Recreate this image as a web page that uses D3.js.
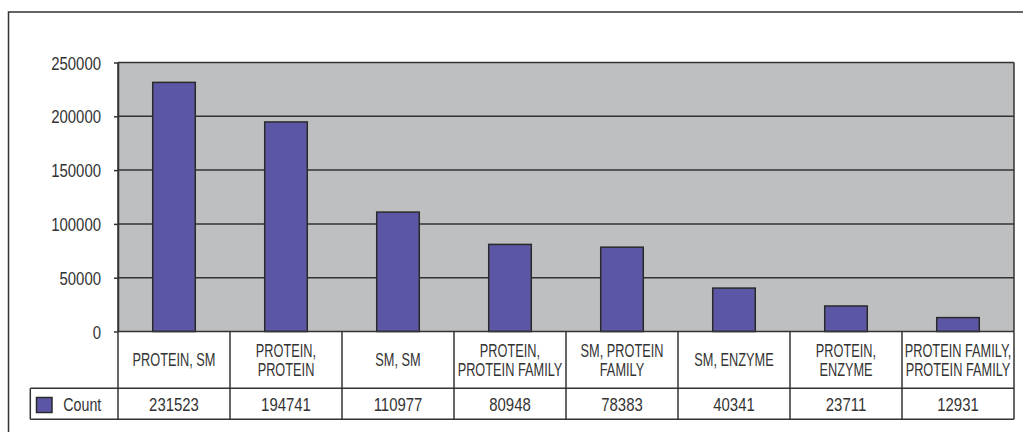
<!DOCTYPE html>
<html>
<head>
<meta charset="utf-8">
<script src="https://cdn.jsdelivr.net/npm/d3@7"></script>
<style>
  html, body { margin: 0; padding: 0; background: #ffffff; }
  svg { display: block; }
  text { font-family: "Liberation Sans", Arial, sans-serif; fill: #333333; }
</style>
</head>
<body>
<svg id="chart" width="1023" height="432"></svg>
<script>
// ---- data ----
const categories = [
  "PROTEIN, SM",
  "PROTEIN,\nPROTEIN",
  "SM, SM",
  "PROTEIN,\nPROTEIN FAMILY",
  "SM, PROTEIN\nFAMILY",
  "SM, ENZYME",
  "PROTEIN,\nENZYME",
  "PROTEIN FAMILY,\nPROTEIN FAMILY"
];
const counts = [231523, 194741, 110977, 80948, 78383, 40341, 23711, 12931];
const seriesName = "Count";
const yTicks = [0, 50000, 100000, 150000, 200000, 250000];

// ---- layout ----
const W = 1023, H = 432;
const plot = { left: 118, right: 1014, top: 62.5, bottom: 331.5 };
const table = { catBottom: 388.3, valBottom: 419.3, legendLeft: 30.3 };
const lineColor = "#333333";
const barFill = "#5b56a6";
const plotBg = "#bebfc1";
const FS = 18;            // font size
const SX_CAPS = 0.71;     // horizontal condensing for upper-case labels
const SX_DIGITS = 0.83;   // horizontal condensing for numbers
const SX_LOWER = 0.79;    // horizontal condensing for mixed-case text

const svg = d3.select("#chart");

function condText(parent, x, y, str, anchor, sx) {
  return parent.append("g")
    .attr("transform", `translate(${x},${y}) scale(${sx},1)`)
    .append("text")
    .attr("text-anchor", anchor)
    .attr("font-size", FS)
    .text(str);
}

// outer frame (extends past the right/bottom edges like the reference)
svg.append("rect")
  .attr("x", 8.5).attr("y", 12)
  .attr("width", W + 20).attr("height", H + 20)
  .attr("fill", "#ffffff").attr("stroke", lineColor).attr("stroke-width", 1.5);

const x = d3.scaleBand().domain(categories)
  .range([plot.left, plot.right])
  .paddingInner(0.62).paddingOuter(0.31);
const xCell = d3.scaleBand().domain(categories)
  .range([plot.left, plot.right]).padding(0);
const y = d3.scaleLinear().domain([0, 250000]).range([plot.bottom, plot.top]);

// plot background
svg.append("rect")
  .attr("x", plot.left).attr("y", plot.top)
  .attr("width", plot.right - plot.left).attr("height", plot.bottom - plot.top)
  .attr("fill", plotBg);

// gridlines
svg.append("g").selectAll("line")
  .data(yTicks.filter(t => t > 0))
  .join("line")
  .attr("x1", plot.left).attr("x2", plot.right)
  .attr("y1", d => y(d)).attr("y2", d => y(d))
  .attr("stroke", lineColor).attr("stroke-width", 1.5);

// bars
svg.append("g").selectAll("rect")
  .data(categories.map((c, i) => ({ c, v: counts[i] })))
  .join("rect")
  .attr("x", d => x(d.c))
  .attr("y", d => y(d.v))
  .attr("width", x.bandwidth())
  .attr("height", d => y(0) - y(d.v))
  .attr("fill", barFill)
  .attr("stroke", "#2a2a2a").attr("stroke-width", 1.5);

// right border of plot
svg.append("line")
  .attr("x1", plot.right).attr("x2", plot.right)
  .attr("y1", plot.top).attr("y2", plot.bottom)
  .attr("stroke", lineColor).attr("stroke-width", 1.5);

// y axis
const yAxis = svg.append("g")
  .attr("transform", `translate(${plot.left},0)`)
  .call(d3.axisLeft(y).tickValues(yTicks).tickFormat(d3.format("d"))
    .tickSize(4).tickSizeOuter(0).tickPadding(13));
yAxis.attr("font-family", null).attr("font-size", null);
yAxis.select(".domain").attr("stroke", lineColor).attr("stroke-width", 1.5);
yAxis.selectAll(".tick line").attr("stroke", lineColor).attr("stroke-width", 1.5);
yAxis.selectAll(".tick text")
  .attr("x", 0).attr("dy", "0.37em")
  .attr("font-size", FS).attr("fill", "#333333")
  .attr("transform", `translate(-17,0) scale(${SX_DIGITS},1)`);

// ---- data table ----
const tg = svg.append("g");
const hLine = (x1, x2, yy) => tg.append("line")
  .attr("x1", x1).attr("x2", x2).attr("y1", yy).attr("y2", yy)
  .attr("stroke", lineColor).attr("stroke-width", 1.5);
const vLine = (xx, y1, y2) => tg.append("line")
  .attr("x1", xx).attr("x2", xx).attr("y1", y1).attr("y2", y2)
  .attr("stroke", lineColor).attr("stroke-width", 1.5);

hLine(plot.left, plot.right, plot.bottom);
hLine(table.legendLeft, plot.right, table.catBottom);
hLine(table.legendLeft, plot.right, table.valBottom);
vLine(table.legendLeft, table.catBottom, table.valBottom);
vLine(plot.left, plot.top, table.valBottom);
categories.forEach(c => vLine(xCell(c) + xCell.bandwidth(), plot.bottom, table.valBottom));

// category labels
const catMid = (plot.bottom + table.catBottom) / 2;
const lineGap = 19.5;
categories.forEach(c => {
  const lines = c.split("\n");
  const cx = xCell(c) + xCell.bandwidth() / 2;
  lines.forEach((ln, k) => {
    const base = catMid + 6.5 + (k - (lines.length - 1) / 2) * lineGap;
    condText(tg, cx, base, ln, "middle", SX_CAPS);
  });
});

// value row
const valBase = (table.catBottom + table.valBottom) / 2 + 7;
categories.forEach((c, i) => {
  condText(tg, xCell(c) + xCell.bandwidth() / 2, valBase, String(counts[i]), "middle", SX_DIGITS);
});

// legend key in table
tg.append("rect")
  .attr("x", 36.5).attr("y", 397.5).attr("width", 15.5).attr("height", 15)
  .attr("fill", barFill).attr("stroke", "#2a2a2a").attr("stroke-width", 1.5);
condText(tg, 63.3, valBase, seriesName, "start", SX_LOWER);
</script>
</body>
</html>
